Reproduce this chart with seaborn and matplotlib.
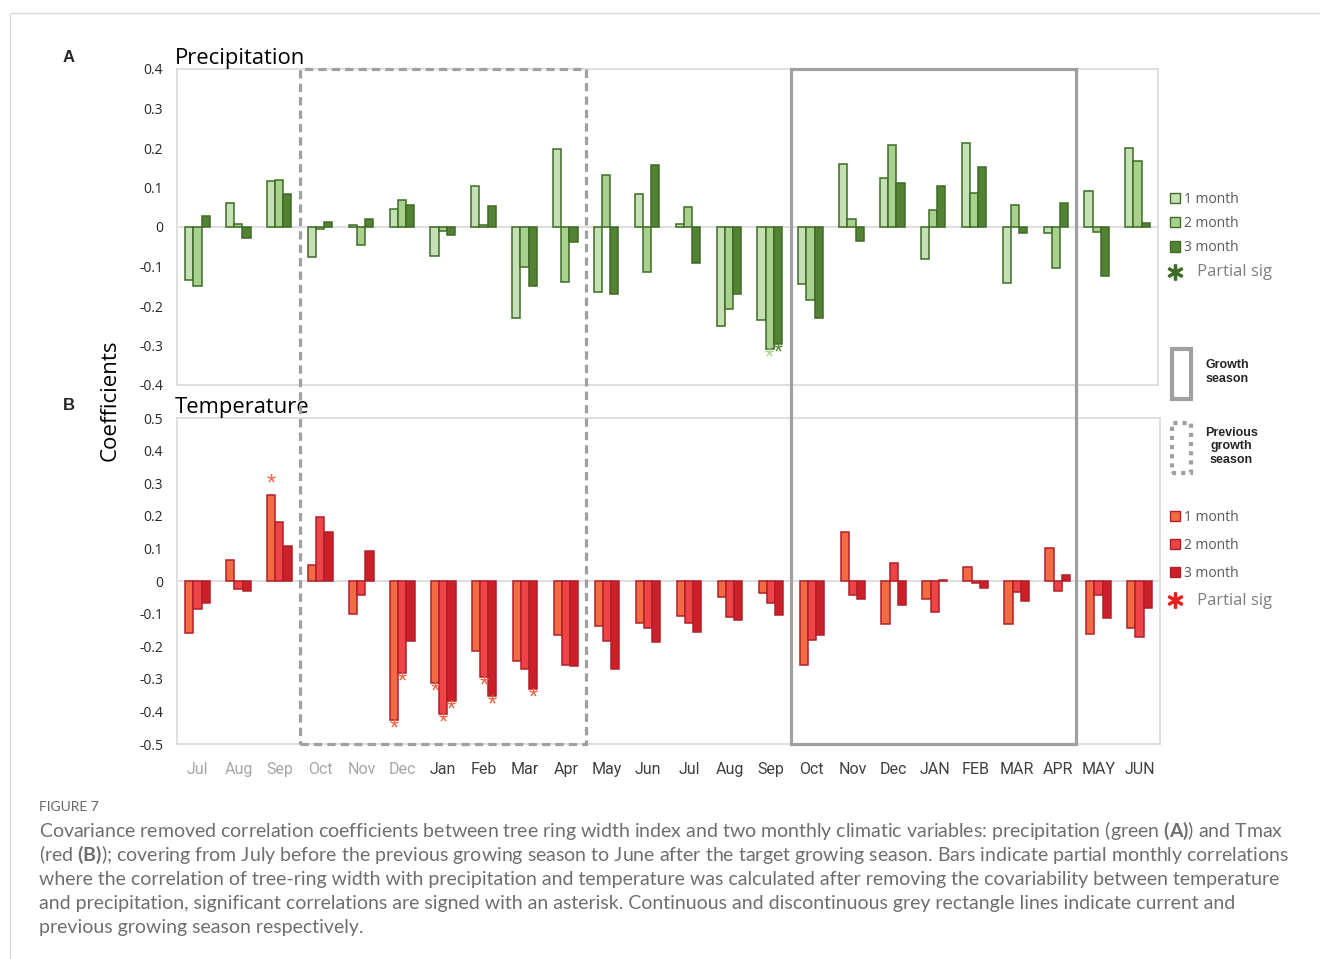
import numpy as np
import pandas as pd
import matplotlib
matplotlib.use("Agg")
import matplotlib.pyplot as plt
import seaborn as sns
from matplotlib.patches import Rectangle, Patch
from matplotlib.lines import Line2D

# months from July before the previous season to June after the target season
months = ["Jul", "Aug", "Sep", "Oct", "Nov", "Dec", "Jan", "Feb", "Mar", "Apr", "May", "Jun",
          "Jul", "Aug", "Sep", "Oct", "Nov", "Dec", "JAN", "FEB", "MAR", "APR", "MAY", "JUN"]
lags = ["1 month", "2 month", "3 month"]

# Precipitation (A)
precip_1 = [-0.135, 0.062, 0.117, -0.076, 0.006, 0.046, -0.073, 0.105, -0.231, 0.198, -0.164, 0.083,
            0.008, -0.250, -0.235, -0.145, 0.159, 0.125, -0.080, 0.212, -0.141, -0.014, 0.091, 0.201]
precip_2 = [-0.149, 0.008, 0.120, -0.004, -0.045, 0.069, -0.010, 0.006, -0.101, -0.139, 0.132, -0.115,
            0.051, -0.208, -0.308, -0.186, 0.021, 0.208, 0.042, 0.085, 0.055, -0.104, -0.012, 0.166]
precip_3 = [0.029, -0.028, 0.084, 0.012, 0.019, 0.055, -0.021, 0.053, -0.149, -0.038, -0.170, 0.156,
            -0.090, -0.169, -0.295, -0.230, -0.035, 0.111, 0.105, 0.152, -0.015, 0.060, -0.124, 0.010]

# Temperature (B)
temp_1 = [-0.161, 0.064, 0.265, 0.050, -0.100, -0.425, -0.312, -0.214, -0.244, -0.167, -0.138, -0.129,
          -0.108, -0.048, -0.038, -0.258, 0.150, -0.133, -0.054, 0.042, -0.133, 0.102, -0.162, -0.143]
temp_2 = [-0.085, -0.026, 0.180, 0.195, -0.042, -0.283, -0.408, -0.293, -0.269, -0.257, -0.183, -0.144,
          -0.130, -0.109, -0.066, -0.180, -0.044, 0.055, -0.096, -0.007, -0.035, -0.030, -0.043, -0.172]
temp_3 = [-0.066, -0.031, 0.106, 0.151, 0.093, -0.185, -0.367, -0.353, -0.332, -0.260, -0.270, -0.186,
          -0.155, -0.121, -0.103, -0.167, -0.054, -0.075, 0.003, -0.021, -0.062, 0.017, -0.112, -0.082]

# significant bars: month index and lag number
precip_sig_month = [14, 14]
precip_sig_lag = [2, 3]
temp_sig_month = [2, 5, 5, 6, 6, 6, 7, 7, 8]
temp_sig_lag = [1, 1, 2, 1, 2, 3, 2, 3, 3]

# season boxes (first and last month index)
prev_season = [3, 9]
growth_season = [15, 21]

green = ["#c5e0b4", "#a9d18e", "#548235"]
red = ["#f26b43", "#ef4347", "#cc1f28"]
green_star = ["#a9d18e", "#a9d18e", "#548235"]
red_star = ["#f5623f", "#f5623f", "#f5623f"]


def long_df(v1, v2, v3):
    rows = []
    for lag, vals in zip(lags, [v1, v2, v3]):
        for i, v in enumerate(vals):
            rows.append({"pos": i, "lag": lag, "value": v})
    return pd.DataFrame(rows)


sns.set_style("white")
plt.rcParams["font.family"] = ["Open Sans", "DejaVu Sans"]
plt.rcParams["mathtext.fontset"] = "custom"
plt.rcParams["mathtext.rm"] = "Lato"
plt.rcParams["mathtext.bf"] = "Lato:bold"

fig = plt.figure(figsize=(13.2, 9.59), dpi=100)
ax_p = fig.add_axes([177 / 1320, 1 - 385 / 959, 981 / 1320, 316 / 959])
ax_t = fig.add_axes([177 / 1320, 1 - 744 / 959, 983 / 1320, 326 / 959])


def draw_panel(ax, df, colors, edge, ylim, ticks):
    sns.barplot(data=df, x="pos", y="value", hue="lag", palette=colors, width=0.6,
                saturation=1, edgecolor=edge, linewidth=1.1, legend=False, ax=ax)
    ax.axhline(0, color="#d9d9d9", lw=1.2, zorder=0)
    ax.set_xlim(-0.5, len(months) - 0.5)
    ax.set_ylim(*ylim)
    ax.set_yticks(ticks)
    ax.set_yticklabels([f"{t:g}" for t in ticks], fontsize=10, color="#262626")
    ax.tick_params(axis="y", length=0, pad=10)
    ax.set_xlabel("")
    ax.set_ylabel("")
    for s in ax.spines.values():
        s.set_color("#d9d9d9")
        s.set_linewidth(1.2)


def add_stars(ax, sig_month, sig_lag, star_colors):
    for m, lag in zip(sig_month, sig_lag):
        bar = ax.containers[lag - 1][m]
        x = bar.get_x() + bar.get_width() / 2
        h = bar.get_height()
        off = 7 if h >= 0 else -7
        ax.annotate("*", (x, h), xytext=(0, off), textcoords="offset points",
                    ha="center", va="center", fontsize=17, color=star_colors[lag - 1],
                    family="Liberation Sans")


draw_panel(ax_p, long_df(precip_1, precip_2, precip_3), green, "#3e6b25",
           (-0.4, 0.4), [0.4, 0.3, 0.2, 0.1, 0, -0.1, -0.2, -0.3, -0.4])
draw_panel(ax_t, long_df(temp_1, temp_2, temp_3), red, "#b0202a",
           (-0.5, 0.5), [0.5, 0.4, 0.3, 0.2, 0.1, 0, -0.1, -0.2, -0.3, -0.4, -0.5])
add_stars(ax_p, precip_sig_month, precip_sig_lag, green_star)
add_stars(ax_t, temp_sig_month, temp_sig_lag, red_star)

ax_p.set_xticks([])
ax_t.set_xticks(range(len(months)))
ax_t.set_xticklabels(months, fontsize=11.5, family=["Roboto", "DejaVu Sans"])
ax_t.tick_params(axis="x", length=0, pad=13)
for i, lab in enumerate(ax_t.get_xticklabels()):
    lab.set_color("#a6a6a6" if i < 6 else "#404040")

ax_p.text(-0.002, 1.0, "Precipitation", transform=ax_p.transAxes, fontsize=15.8,
          ha="left", va="bottom", color="black")
ax_t.text(-0.002, 1.0, "Temperature", transform=ax_t.transAxes, fontsize=15.8,
          ha="left", va="bottom", color="black")
fig.text(69 / 1320, 1 - 58 / 959, "A", fontsize=12, weight="bold", family="Liberation Sans",
         ha="center", va="center")
fig.text(69 / 1320, 1 - 406 / 959, "B", fontsize=12, weight="bold", family="Liberation Sans",
         ha="center", va="center")
fig.text(110 / 1320, 1 - 400 / 959, "Coefficients", fontsize=16, rotation=90,
         ha="center", va="center", color="black")

# season rectangles spanning both panels
to_fig = fig.transFigure.inverted()
for (m0, m1), ls in [(prev_season, (0, (2.6, 1.6))), (growth_season, "-")]:
    x0, y0 = to_fig.transform(ax_t.transData.transform((m0 - 0.5, -0.5)))
    x1, y1 = to_fig.transform(ax_p.transData.transform((m1 + 0.5, 0.4)))
    fig.patches.append(Rectangle((x0, y0), x1 - x0, y1 - y0, transform=fig.transFigure,
                                 fill=False, edgecolor="#a0a0a0", lw=2.3, linestyle=ls,
                                 zorder=5))

# legends
star_g = Line2D([], [], ls="none", marker="$*$", ms=11, color="#3e6b25")
star_r = Line2D([], [], ls="none", marker="$*$", ms=11, color="#e8201c")
hg = [Patch(facecolor=c, edgecolor="#3e6b25") for c in green] + [star_g]
hr = [Patch(facecolor=c, edgecolor="#b0202a") for c in red] + [star_r]
for handles, top, spacing in [(hg, 192, 0.66), (hr, 510, 0.92)]:
    leg = fig.legend(handles=handles, labels=lags + ["   Partial sig"], loc="upper left",
                     bbox_to_anchor=(1170 / 1320, 1 - top / 959), frameon=False,
                     fontsize=10, handlelength=0.75, handleheight=0.75, handletextpad=0.25,
                     labelspacing=spacing, borderpad=0, borderaxespad=0)
    for t in leg.get_texts():
        t.set_color("#595959")
    leg.get_texts()[-1].set_fontsize(12)
    leg.get_texts()[-1].set_color("#7f7f7f")

hs = [Patch(facecolor="none", edgecolor="#a0a0a0", lw=3),
      Patch(facecolor="none", edgecolor="#a0a0a0", lw=3, linestyle=(0, (1, 1.2)))]
leg2 = fig.legend(handles=hs, labels=["Growth\nseason", "Previous\ngrowth\nseason"],
                  loc="upper left", bbox_to_anchor=(1172 / 1320, 1 - 349 / 959),
                  frameon=False, handlelength=1.55, handleheight=5.8, handletextpad=1.1,
                  labelspacing=1.9, borderpad=0, borderaxespad=0,
                  prop={"family": "Liberation Sans", "weight": "bold", "size": 9})
for t in leg2.get_texts():
    t.set_multialignment("center")

# outer frame of the figure page
fig.patches.append(Rectangle((10 / 1320, -0.05), 1.1, 1 - 13 / 959 + 0.05,
                             transform=fig.transFigure, fill=False,
                             edgecolor="#d9d9d9", lw=1))

# caption
fig.text(39 / 1320, 1 - 807 / 959, "FIGURE 7", fontsize=10, color="#666666",
         family="Lato", ha="left", va="center")
caption = [
    r"Covariance removed correlation coefficients between tree ring width index and two monthly climatic variables: precipitation (green $\mathbf{(A)}$) and Tmax",
    r"(red $\mathbf{(B)}$); covering from July before the previous growing season to June after the target growing season. Bars indicate partial monthly correlations",
    "where the correlation of tree-ring width with precipitation and temperature was calculated after removing the covariability between temperature",
    "and precipitation, significant correlations are signed with an asterisk. Continuous and discontinuous grey rectangle lines indicate current and",
    "previous growing season respectively.",
]
for i, line in enumerate(caption):
    fig.text(39 / 1320, 1 - (831 + 24 * i) / 959, line, fontsize=14, color="#6e6e6e",
             family="Lato", ha="left", va="center")

fig.savefig("out.png", dpi=100)
